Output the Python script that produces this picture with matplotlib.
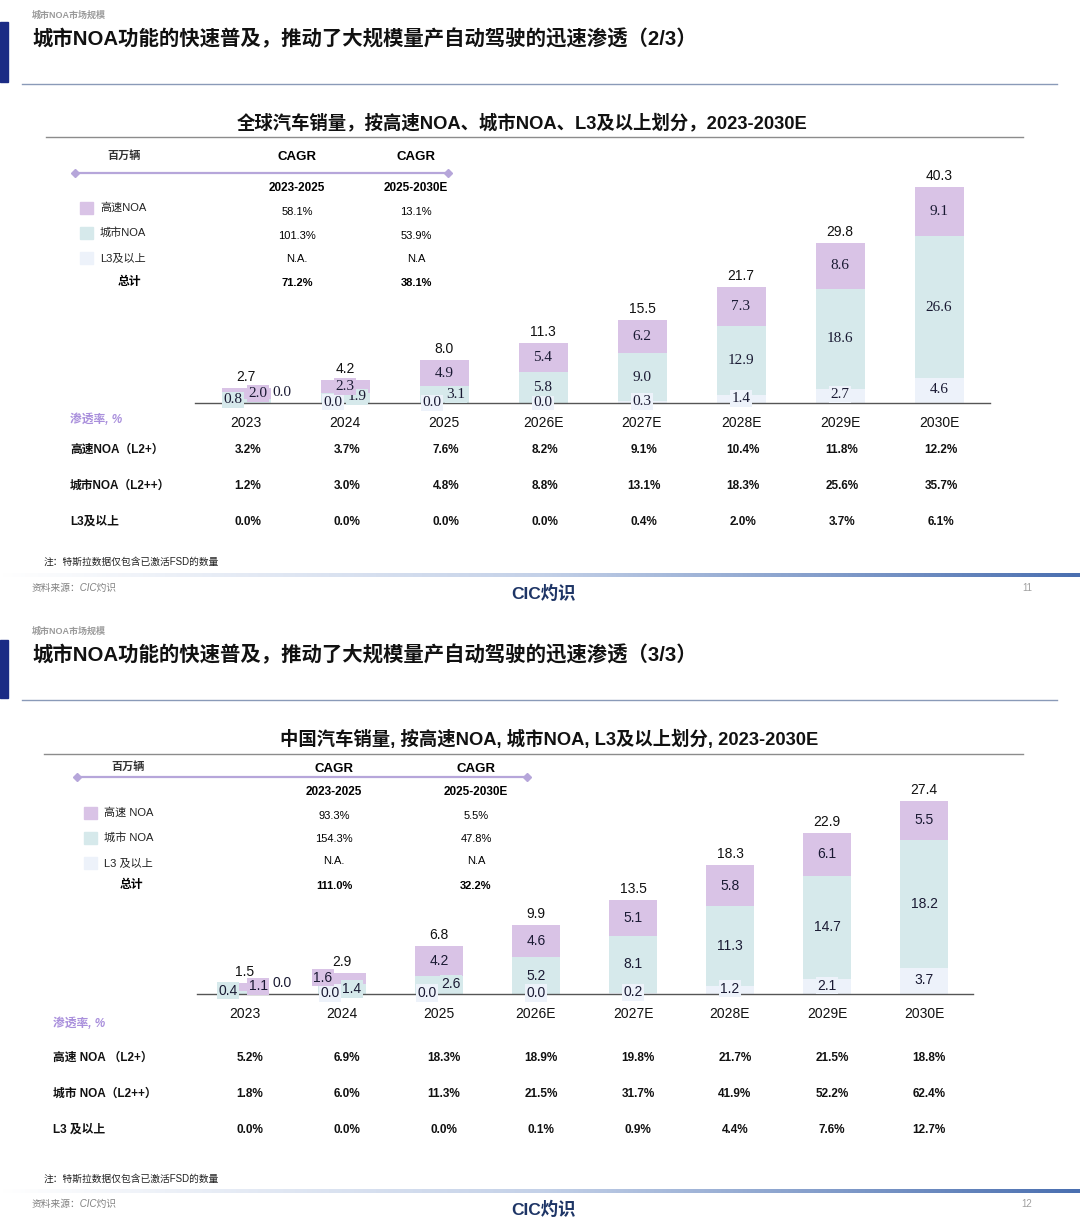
import numpy as np
import matplotlib
matplotlib.use("Agg")
import matplotlib.pyplot as plt
from matplotlib.patches import Rectangle
from matplotlib.colors import LinearSegmentedColormap
from matplotlib.transforms import blended_transform_factory

plt.rcParams['font.family'] = ['Liberation Sans', 'Noto Sans CJK SC', 'DejaVu Sans']

# ---- data ----
years = ['2023', '2024', '2025', '2026E', '2027E', '2028E', '2029E', '2030E']

# 全球 (百万辆)
gl_highway = [2.0, 2.3, 4.9, 5.4, 6.2, 7.3, 8.6, 9.1]
gl_city = [0.8, 1.9, 3.1, 5.8, 9.0, 12.9, 18.6, 26.6]
gl_l3 = [0.0, 0.0, 0.0, 0.0, 0.3, 1.4, 2.7, 4.6]
gl_total = [2.7, 4.2, 8.0, 11.3, 15.5, 21.7, 29.8, 40.3]
gl_cagr_2325 = ['58.1%', '101.3%', 'N.A.', '71.2%']
gl_cagr_2530 = ['13.1%', '53.9%', 'N.A', '38.1%']
gl_pen_highway = ['3.2%', '3.7%', '7.6%', '8.2%', '9.1%', '10.4%', '11.8%', '12.2%']
gl_pen_city = ['1.2%', '3.0%', '4.8%', '8.8%', '13.1%', '18.3%', '25.6%', '35.7%']
gl_pen_l3 = ['0.0%', '0.0%', '0.0%', '0.0%', '0.4%', '2.0%', '3.7%', '6.1%']

# 中国 (百万辆)
cn_highway = [1.1, 1.6, 4.2, 4.6, 5.1, 5.8, 6.1, 5.5]
cn_city = [0.4, 1.4, 2.6, 5.2, 8.1, 11.3, 14.7, 18.2]
cn_l3 = [0.0, 0.0, 0.0, 0.0, 0.2, 1.2, 2.1, 3.7]
cn_total = [1.5, 2.9, 6.8, 9.9, 13.5, 18.3, 22.9, 27.4]
cn_cagr_2325 = ['93.3%', '154.3%', 'N.A.', '111.0%']
cn_cagr_2530 = ['5.5%', '47.8%', 'N.A', '32.2%']
cn_pen_highway = ['5.2%', '6.9%', '18.3%', '18.9%', '19.8%', '21.7%', '21.5%', '18.8%']
cn_pen_city = ['1.8%', '6.0%', '11.3%', '21.5%', '31.7%', '41.9%', '52.2%', '62.4%']
cn_pen_l3 = ['0.0%', '0.0%', '0.0%', '0.1%', '0.9%', '4.4%', '7.6%', '12.7%']

C_HW = '#d9c3e6'
C_CITY = '#d6e9eb'
C_L3 = '#edf2fa'
NAVY = '#1b2b85'

W, H = 1080, 1228
fig = plt.figure(figsize=(W / 100, H / 100), dpi=100)
ax0 = fig.add_axes([0, 0, 1, 1])
ax0.set_xlim(0, W)
ax0.set_ylim(H, 0)
ax0.axis('off')

grad_cmap = LinearSegmentedColormap.from_list('g', ['#ffffff', '#c4d1e8', '#4a6fb0'])


def px_axes(l, t, r, b):
    return fig.add_axes([l / W, 1 - b / H, (r - l) / W, (b - t) / H])


def draw_slide(L, highway, city, l3, total, cagr_a, cagr_b, pens, offsets):
    oy = L['oy']
    # header
    ax0.text(32, oy + 15, '城市NOA市场规模', fontsize=6.5, color='#9a9a9a', va='center', fontweight='bold')
    ax0.add_patch(Rectangle((0, L['bar'][0]), 8, L['bar'][1] - L['bar'][0], color=NAVY))
    ax0.text(32, L['title_y'], L['title'], fontsize=14.7, fontweight='bold', va='center', color='#111')
    ax0.plot([22, 1057], [L['rule_y']] * 2, color='#8a9ab8', lw=1)
    ax0.text(L['ctitle_x'], L['ctitle_y'], L['ctitle'], fontsize=13.2, fontweight='bold',
             ha='center', va='center', color='#111')
    ax0.plot([L['cline_x0'], 1023], [L['cline_y']] * 2, color='#8c8c8c', lw=1)

    # CAGR block
    ax0.text(L['unit_x'], L['unit_y'], '百万辆', fontsize=8, fontweight='bold', style='italic',
             ha='center', va='center', color='#333')
    for x, p in zip(L['cagr_x'], ['2023-2025', '2025-2030E']):
        ax0.text(x, L['cagr_y'], 'CAGR', fontsize=9.5, fontweight='bold', ha='center', va='center')
        ax0.text(x, L['period_y'], p, fontsize=8.5, fontweight='bold', ha='center', va='center')
    ax0.plot(L['pline_x'], [L['pline_y']] * 2, color='#b6a6da', lw=1.6, marker='D', ms=4)
    for i, (c, lab) in enumerate(zip([C_HW, C_CITY, C_L3], L['legend'])):
        yc = L['leg_y'][i]
        ax0.add_patch(Rectangle((L['leg_x'], yc - 6), 13, 12, color=c))
        ax0.text(L['leg_x'] + 20, yc, lab, fontsize=8, va='center', color='#222')
    ax0.text(L['tot_x'], L['tot_y'], '总计', fontsize=8.5, fontweight='bold', ha='center', va='center')
    for j in range(4):
        fw = 'bold' if j == 3 else 'normal'
        ax0.text(L['cagr_x'][0], L['val_y'][j], cagr_a[j], fontsize=8, fontweight=fw, ha='center', va='center')
        ax0.text(L['cagr_x'][1], L['val_y'][j], cagr_b[j], fontsize=8, fontweight=fw, ha='center', va='center')

    # bars
    l, t, r, b = L['ax']
    c0, step, scale = L['c0'], L['step'], L['scale']
    ax = px_axes(l, t, r, b)
    ax.patch.set_alpha(0)
    x = np.arange(len(years))
    ax.set_xlim((l - c0) / step, (r - c0) / step)
    ax.set_ylim(0, (b - t) / scale)
    bw = L['bw'] / step
    hw = np.array(highway)
    ct = np.array(city)
    l3a = np.array(l3)
    ax.bar(x, l3a, bw, color=C_L3, zorder=2)
    ax.bar(x, ct, bw, bottom=l3a, color=C_CITY, zorder=2)
    ax.bar(x, hw, bw, bottom=l3a + ct, color=C_HW, zorder=2)
    for s in ['top', 'right', 'left']:
        ax.spines[s].set_visible(False)
    ax.spines['bottom'].set_color('#555555')
    ax.spines['bottom'].set_linewidth(1)
    ax.set_yticks([])
    ax.set_xticks(x)
    ax.set_xticklabels(years, fontsize=10, color='#111')
    ax.tick_params(axis='x', length=0, pad=L['tick_pad'])

    seg_font = dict(fontsize=L['seg_fs'], family=L['seg_family'], color='#1a1a33')
    for i in range(len(years)):
        segs = [('l3', l3a[i] / 2, l3a[i], C_L3),
                ('city', l3a[i] + ct[i] / 2, ct[i], C_CITY),
                ('highway', l3a[i] + ct[i] + hw[i] / 2, hw[i], C_HW)]
        for key, yc, v, col in segs:
            dx, dy = offsets.get((i, key), (0, 1 if key == 'l3' else 0))
            bg = 'white' if (key == 'l3' and dx > 20) else col
            ax.annotate(f'{v:.1f}', (x[i], yc), xytext=(dx, dy), textcoords='offset pixels',
                        ha='center', va='center', zorder=4,
                        bbox=dict(boxstyle='square,pad=0.12', fc=bg, ec='none'), **seg_font)
        ax.annotate(f'{total[i]:.1f}', (x[i], l3a[i] + ct[i] + hw[i]), xytext=(0, 11),
                    textcoords='offset pixels', ha='center', va='center', fontsize=10, color='#111')

    # penetration table
    ax0.text(L['pen_x'], L['pen_y'], '渗透率, %', fontsize=8.5, fontweight='bold', style='italic',
             color='#a98fdc', va='center')
    tr = blended_transform_factory(ax.transData, ax0.transData)
    for lab, vals, yy in zip(L['rows'], pens, L['row_y']):
        ax0.text(L['row_x'], yy, lab, fontsize=8.5, fontweight='bold', va='center', color='#111')
        for i, v in enumerate(vals):
            ax0.text(x[i] + L['row_dx'] / step, yy, v, fontsize=8.5, fontweight='bold',
                     ha='center', va='center', transform=tr, color='#111')

    # footer
    ax0.text(44, L['note_y'], '注：特斯拉数据仅包含已激活FSD的数量', fontsize=7, va='center', color='#222')
    ax0.imshow(np.linspace(0, 1, 512)[None, :], cmap=grad_cmap, aspect='auto',
               extent=[0, W, L['grad_y'] + 4, L['grad_y']], zorder=1)
    ax0.text(32, L['foot_y'], '资料来源：CIC灼识', fontsize=7, style='italic', color='#808080', va='center')
    ax0.text(544, L['logo_y'], 'CIC灼识', fontsize=12.5, fontweight='bold', color='#1e3566',
             ha='center', va='center')
    ax0.text(1027, L['foot_y'], L['page'], fontsize=7, color='#a0a0a0', ha='center', va='center')


lay1 = dict(oy=0, bar=(22, 82), title_y=39, rule_y=84,
            title='城市NOA功能的快速普及，推动了大规模量产自动驾驶的迅速渗透（2/3）',
            ctitle='全球汽车销量，按高速NOA、城市NOA、L3及以上划分，2023-2030E',
            ctitle_x=522, ctitle_y=123, cline_y=137, cline_x0=46,
            unit_x=124, unit_y=156, cagr_x=(297, 416), cagr_y=157, period_y=188,
            pline_x=(75, 448), pline_y=173,
            legend=['高速NOA', '城市NOA', 'L3及以上'], leg_x=80, leg_y=(208, 233, 258),
            tot_x=129, tot_y=282, val_y=(212, 236, 259, 283),
            ax=(195, 160, 990, 403), c0=246, step=99, scale=5.36, bw=49, tick_pad=9.5,
            seg_fs=11, seg_family=['Liberation Serif'],
            pen_x=70, pen_y=420, row_x=70, row_y=(450, 486, 522), row_dx=2,
            rows=['高速NOA（L2+）', '城市NOA（L2++）', 'L3及以上'],
            note_y=562, grad_y=573, foot_y=588, logo_y=593, page='11')

lay2 = dict(oy=616, bar=(640, 698), title_y=655, rule_y=700,
            title='城市NOA功能的快速普及，推动了大规模量产自动驾驶的迅速渗透（3/3）',
            ctitle='中国汽车销量, 按高速NOA, 城市NOA, L3及以上划分, 2023-2030E',
            ctitle_x=549, ctitle_y=739, cline_y=754, cline_x0=44,
            unit_x=128, unit_y=767, cagr_x=(334, 476), cagr_y=769, period_y=792,
            pline_x=(77, 527), pline_y=777,
            legend=['高速 NOA', '城市 NOA', 'L3 及以上'], leg_x=84, leg_y=(813, 838, 863),
            tot_x=131, tot_y=885, val_y=(816, 839, 861, 886),
            ax=(197, 780, 973, 994), c0=245, step=97, scale=7.04, bw=48, tick_pad=9.5,
            seg_fs=10, seg_family=['Liberation Sans'],
            pen_x=53, pen_y=1024, row_x=53, row_y=(1058, 1094, 1130), row_dx=5,
            rows=['高速 NOA （L2+）', '城市 NOA（L2++）', 'L3 及以上'],
            note_y=1179, grad_y=1189, foot_y=1204, logo_y=1209, page='12')

gl_offsets = {(0, 'city'): (-13, 1), (0, 'highway'): (12, 0), (0, 'l3'): (36, 10),
              (1, 'city'): (12, 1), (1, 'l3'): (-12, 1),
              (2, 'city'): (12, 0), (2, 'l3'): (-12, 0)}
cn_offsets = {(0, 'city'): (-17, 2), (0, 'highway'): (13, 1), (0, 'l3'): (37, 11),
              (1, 'highway'): (-19, 1), (1, 'city'): (10, 0), (1, 'l3'): (-12, 1),
              (2, 'city'): (12, 1), (2, 'l3'): (-12, 1)}

draw_slide(lay1, gl_highway, gl_city, gl_l3, gl_total, gl_cagr_2325, gl_cagr_2530,
           [gl_pen_highway, gl_pen_city, gl_pen_l3], gl_offsets)
draw_slide(lay2, cn_highway, cn_city, cn_l3, cn_total, cn_cagr_2325, cn_cagr_2530,
           [cn_pen_highway, cn_pen_city, cn_pen_l3], cn_offsets)

ax0.set_xlim(0, W)
ax0.set_ylim(H, 0)

fig.savefig('out.png', dpi=100)
